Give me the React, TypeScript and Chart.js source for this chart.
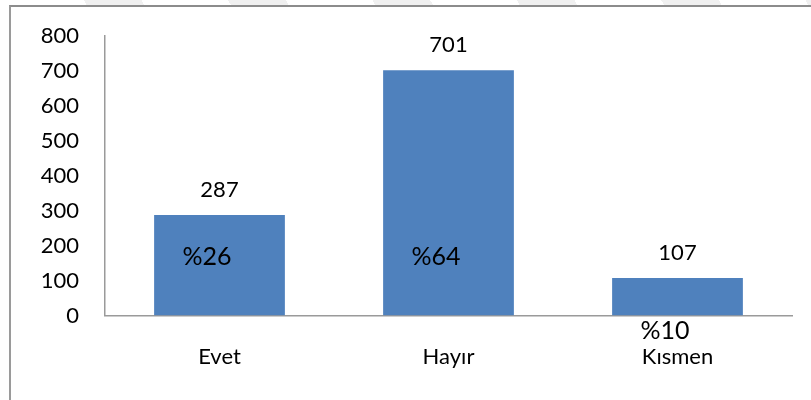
import React, { useEffect, useRef } from "react";
import { Chart, registerables } from "chart.js";

Chart.register(...registerables);

const categories = ["Evet", "Hayır", "Kısmen"];
const counts = [287, 701, 107];
const percentLabels = ["%26", "%64", "%10"];
const yTicks = [0, 100, 200, 300, 400, 500, 600, 700, 800];

const FONT = "Lato, 'Noto Sans', sans-serif";

const labelPlugin = {
  id: "barLabels",
  afterDatasetsDraw(chart: any) {
    const ctx = chart.ctx;
    const meta = chart.getDatasetMeta(0);
    const yScale = chart.scales.y;
    ctx.save();
    ctx.fillStyle = "#000";
    meta.data.forEach((bar: any, i: number) => {
      ctx.font = `22px ${FONT}`;
      ctx.textAlign = "center";
      ctx.textBaseline = "alphabetic";
      ctx.fillText(String(counts[i]), bar.x, bar.y - 18);
      ctx.font = `25px ${FONT}`;
      ctx.textAlign = "left";
      const inside = counts[i] > 200;
      const py = inside ? yScale.getPixelForValue(144) : yScale.bottom + 23;
      ctx.fillText(percentLabels[i], bar.x - 37, py);
    });
    ctx.restore();
  },
};

export default function App() {
  const ref = useRef<HTMLCanvasElement | null>(null);
  useEffect(() => {
    if (!ref.current) return;
    const chart = new Chart(ref.current, {
      type: "bar",
      data: {
        labels: categories,
        datasets: [
          {
            data: counts,
            backgroundColor: "#4F81BD",
            borderWidth: 0,
            barPercentage: 0.571,
            categoryPercentage: 1,
          },
        ],
      },
      options: {
        responsive: false,
        animation: false,
        layout: { padding: { top: 35.5, right: 19, bottom: 0, left: 0 } },
        plugins: { legend: { display: false }, tooltip: { enabled: false } },
        scales: {
          x: {
            grid: { display: false, drawTicks: false },
            border: { display: true, color: "#9a9a9a", width: 1.5 },
            ticks: {
              color: "#000",
              font: { family: FONT, size: 22 },
              padding: 28,
            },
            afterFit: (s: any) => {
              s.height = 84.5;
              s.paddingLeft = 0;
              s.paddingRight = 0;
            },
          },
          y: {
            min: 0,
            max: 800,
            afterBuildTicks: (s: any) => {
              s.ticks = yTicks.map((v) => ({ value: v }));
            },
            grid: { display: false, drawTicks: false },
            border: { display: true, color: "#9a9a9a", width: 1.5 },
            ticks: {
              color: "#000",
              font: { family: FONT, size: 22 },
              padding: 26,
            },
            afterFit: (s: any) => {
              s.width = 105;
              s.paddingTop = 0;
              s.paddingBottom = 0;
            },
          },
        },
      },
      plugins: [labelPlugin],
    });
    return () => chart.destroy();
  }, []);

  return (
    <div
      style={{
        position: "fixed",
        left: 0,
        top: 0,
        width: 811,
        height: 400,
        overflow: "hidden",
        background: "#fff",
      }}
    >
      <div
        style={{
          position: "absolute",
          left: 0,
          top: 0,
          width: 811,
          height: 5,
          background:
            "repeating-linear-gradient(60deg, #ffffff 0px, #ffffff 75px, #f0f0f0 75px, #f0f0f0 125px)",
        }}
      />
      <div
        style={{
          position: "absolute",
          left: 9,
          top: 5,
          width: 840,
          height: 420,
          borderTop: "2px solid #8c8c8c",
          borderLeft: "2px solid #9a9a9a",
          boxSizing: "border-box",
        }}
      />
      <canvas
        ref={ref}
        width={811}
        height={400}
        style={{ position: "absolute", left: 0, top: 0 }}
      />
    </div>
  );
}
